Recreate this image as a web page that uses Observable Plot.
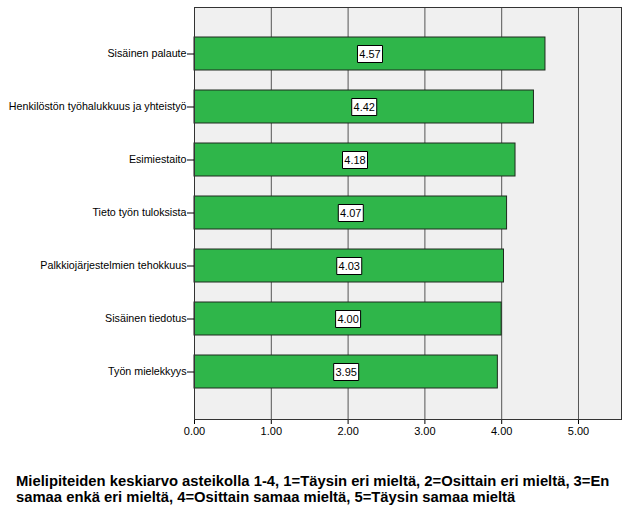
<!DOCTYPE html>
<html>
<head>
<meta charset="utf-8">
<script src="https://cdn.jsdelivr.net/npm/d3@7"></script>
<script src="https://cdn.jsdelivr.net/npm/@observablehq/plot@0.6"></script>
<style>
  body { margin: 0; background: #fff; font-family: "Liberation Sans", Arial, sans-serif; }
  #chart svg { display: block; }
  #caption { margin: 23px 0 0 16px; font: bold 14.8px "Liberation Sans", Arial, sans-serif; line-height: 16px; color: #000; width: 610px; white-space: nowrap; }
</style>
</head>
<body>
<div id="chart"></div>
<div id="caption">Mielipiteiden keskiarvo asteikolla 1-4, 1=Täysin eri mieltä, 2=Osittain eri mieltä, 3=En<br>samaa enkä eri mieltä, 4=Osittain samaa mieltä, 5=Täysin samaa mieltä</div>
<script>
const categories = [
  "Sisäinen palaute",
  "Henkilöstön työhalukkuus ja yhteistyö",
  "Esimiestaito",
  "Tieto työn tuloksista",
  "Palkkiojärjestelmien tehokkuus",
  "Sisäinen tiedotus",
  "Työn mielekkyys"
];
const values = [4.57, 4.42, 4.18, 4.07, 4.03, 4.00, 3.95];
const xTicks = [0, 1, 2, 3, 4, 5];

const data = categories.map((c, i) => ({cat: c, value: values[i]}));
const boxSymbol = { draw(ctx) { ctx.rect(-12.5, -8.5, 25, 17); } };

const chart = Plot.plot({
  width: 629,
  height: 450,
  marginLeft: 194,
  marginTop: 7,
  marginRight: 8,
  marginBottom: 31,
  style: { fontFamily: "Liberation Sans, Arial, sans-serif", fontSize: "10.7px", color: "#000", background: "#fff" },
  x: { domain: [0, 5.56], ticks: xTicks, tickFormat: d3.format(".2f"), label: null },
  y: { domain: categories, label: null, paddingInner: 0.377, paddingOuter: 0.575 },
  marks: [
    Plot.frame({ fill: "#f0f0f0" }),
    Plot.ruleX(xTicks.slice(1), { stroke: "#555", strokeWidth: 1 }),
    Plot.barX(data, { x: "value", y: "cat", fill: "#2fb64a", stroke: "#1e2a1e", strokeWidth: 1 }),
    Plot.dot(data, { x: d => d.value / 2, y: "cat", symbol: boxSymbol, fill: "#fff", stroke: "#000", strokeWidth: 1, r: 1 }),
    Plot.text(data, { x: d => d.value / 2, y: "cat", text: d => d.value.toFixed(2), fill: "#000", fontSize: 11 }),
    Plot.axisX({ ticks: xTicks, tickFormat: d3.format(".2f"), tickSize: 5, tickPadding: 3, label: null, stroke: "#000", fontSize: 11 }),
    Plot.axisY({ tickSize: 7, tickPadding: 1, label: null, stroke: "#000" }),
    Plot.frame({ stroke: "#333", strokeWidth: 1 })
  ]
});
document.getElementById("chart").appendChild(chart);
</script>
</body>
</html>
